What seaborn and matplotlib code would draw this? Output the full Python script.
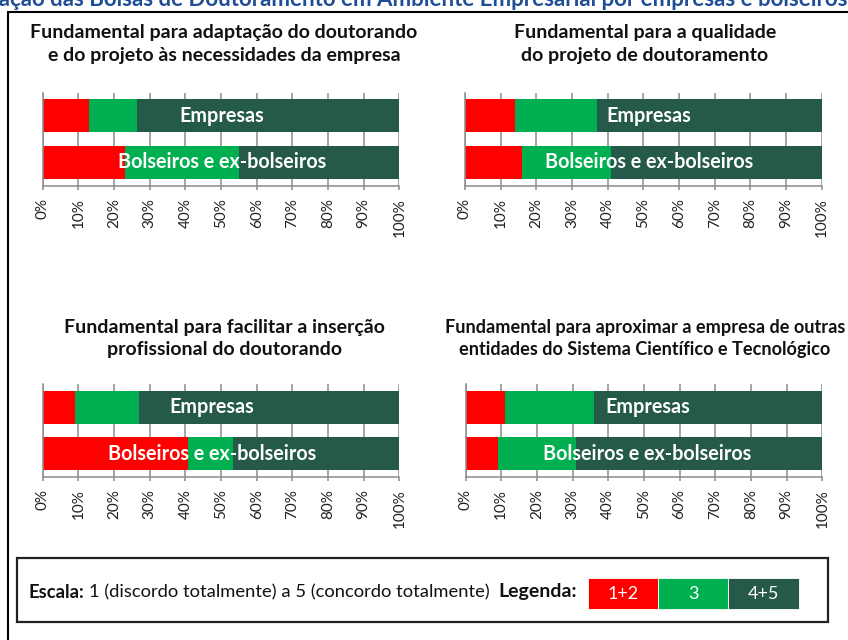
import numpy as np
import pandas as pd
import matplotlib
matplotlib.use("Agg")
import matplotlib.pyplot as plt
import seaborn as sns
from matplotlib.patches import Rectangle

# ---------------- data ----------------
main_title = "Avaliação das Bolsas de Doutoramento em Ambiente Empresarial por empresas e bolseiros"
panel_titles = [
    "Fundamental para adaptação do doutorando\ne do projeto às necessidades da empresa",
    "Fundamental para a qualidade\ndo projeto de doutoramento",
    "Fundamental para facilitar a inserção\nprofissional do doutorando",
    "Fundamental para aproximar a empresa de outras\nentidades do Sistema Científico e Tecnológico",
]
groups = ["Empresas", "Bolseiros e ex-bolseiros"]
share_1_2 = [[13, 23], [14, 16], [9, 40.7], [11, 9]]
share_3 = [[13.4, 32], [23, 25], [18, 12.8], [25, 22]]
share_4_5 = [[73.6, 45], [63, 59], [73, 46.5], [64, 69]]
scale_labels = ["1+2", "3", "4+5"]
tick_values = list(range(0, 101, 10))
scale_text = "1 (discordo totalmente) a 5 (concordo totalmente)"

# ---------------- style ----------------
RED, GREEN, DARK = "#FF0000", "#00B050", "#25594A"
GRID = "#8C8C8C"
W, H = 848, 640

sns.set_style("white")
plt.rcParams["font.family"] = ["Lato", "DejaVu Sans"]

fig = plt.figure(figsize=(W / 100, H / 100), dpi=100)

def fx(px):
    return px / W

def fy(py):
    return 1 - py / H

# axes rectangles in pixel coords (left, top, right, bottom)
axes_px = [
    (42.7, 92.5, 399.3, 185.5),
    (465.0, 92.5, 821.7, 185.5),
    (42.7, 384.0, 399.3, 477.0),
    (465.5, 384.0, 822.3, 477.0),
]
title_px = [(224, 44), (645, 44), (224.5, 338.5), (645, 338.5)]
title_size = [14, 14, 14, 13.1]
label_x = [50.3, 51.5, 47.5, 51.0]

for k in range(4):
    l, t, r, b = axes_px[k]
    ax = fig.add_axes([fx(l), fy(b), fx(r) - fx(l), (b - t) / H])
    df = pd.DataFrame({
        "group": groups,
        "c1": share_1_2[k],
        "c2": np.array(share_1_2[k]) + np.array(share_3[k]),
        "c3": np.array(share_1_2[k]) + np.array(share_3[k]) + np.array(share_4_5[k]),
    })
    for col, colr in [("c3", DARK), ("c2", GREEN), ("c1", RED)]:
        sns.barplot(data=df, y="group", x=col, color=colr, orient="h",
                    width=0.71, ax=ax, saturation=1, linewidth=0, zorder=2)
    ax.set_xlim(0, 100)
    ax.set_ylim(1.5, -0.5)
    ax.set_xticks(tick_values)
    ax.set_xticklabels([f"{v}%" for v in tick_values], rotation=90,
                       fontsize=11, color="#222222")
    ax.set_yticks([])
    ax.set_xlabel("")
    ax.set_ylabel("")
    ax.set_axisbelow(True)
    ax.xaxis.grid(True, color=GRID, linewidth=1.1)
    ax.tick_params(axis="x", direction="out", length=3, width=1.1,
                   color=GRID, pad=6, bottom=True)
    for s in ["top", "right"]:
        ax.spines[s].set_visible(False)
    for s in ["left", "bottom"]:
        ax.spines[s].set_color(GRID)
        ax.spines[s].set_linewidth(1.1)
    for i, g in enumerate(groups):
        ax.text(label_x[k], i, g, ha="center", va="center", color="white",
                fontsize=14.2, fontweight="bold", zorder=5)
    cx, cy = title_px[k]
    fig.text(fx(cx), fy(cy), panel_titles[k], ha="center", va="center",
             fontsize=title_size[k], fontweight="bold", color="#111111",
             linespacing=1.38, multialignment="center")

# outer frame
fig.patches.append(Rectangle((fx(8), -0.1), 1.2, fy(11.5) + 0.1,
                             transform=fig.transFigure, fill=False,
                             edgecolor="black", linewidth=1.5, clip_on=False))

# main title (cropped at the top-left, as in the original)
fig.text(1.0, fy(6), main_title, ha="right", va="baseline", fontsize=16,
         fontweight="bold", color="#1F4E96")

# legend box
fig.patches.append(Rectangle((fx(17), fy(622)), fx(828) - fx(17), (622 - 558) / H,
                             transform=fig.transFigure, fill=False,
                             edgecolor="#222222", linewidth=1.6))
fig.canvas.draw()
renderer = fig.canvas.get_renderer()
t1 = fig.text(fx(28), fy(592), "Escala:", ha="left", va="center", fontsize=13.2,
              fontweight="bold", color="#111111")
bb = t1.get_window_extent(renderer)
fig.text(fx(bb.x1 + 5), fy(592), scale_text, ha="left", va="center",
         fontsize=13.2, color="#111111")
fig.text(fx(577), fy(592), "Legenda:", ha="right", va="center", fontsize=14,
         fontweight="bold", color="#111111")
box_edges = [588.3, 658.0, 728.0, 798.7]
for i, (lab, colr) in enumerate(zip(scale_labels, [RED, GREEN, DARK])):
    x0, x1 = box_edges[i], box_edges[i + 1]
    fig.patches.append(Rectangle((fx(x0), fy(609)), fx(x1) - fx(x0), (609 - 578.3) / H,
                                 transform=fig.transFigure, facecolor=colr,
                                 edgecolor="white", linewidth=0.6))
    fig.text(fx((x0 + x1) / 2), fy(594), lab, ha="center", va="center",
             fontsize=13, color="white")

fig.savefig("out.png", dpi=100)
